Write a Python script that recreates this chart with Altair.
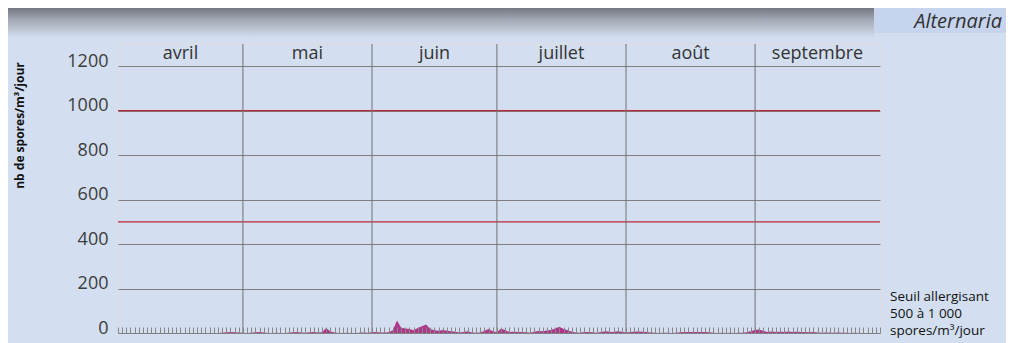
import altair as alt
import pandas as pd

# ---- data ----
mois = ["avril", "mai", "juin", "juillet", "août", "septembre"]
jours_par_mois = [30, 31, 30, 31, 31, 30]

avril = [0, 0, 0, 0, 0, 0, 0, 0, 0, 0, 0, 0, 0, 0, 0, 0, 0, 0, 0, 0, 0, 0, 0, 0, 0, 1, 3, 4, 3, 2]
mai = [1, 0, 1, 3, 4, 2, 0, 0, 1, 0, 0, 1, 3, 4, 2, 1, 3, 4, 2, 3, 22, 7, 2, 0, 0, 1, 0, 0, 1, 2, 1]
juin = [3, 4, 2, 2, 3, 12, 56, 24, 20, 18, 12, 22, 30, 38, 18, 12, 10, 14, 10, 8, 6, 2, 5, 8, 2, 1, 2, 10, 18, 8]
juillet = [3, 20, 12, 5, 6, 4, 5, 3, 1, 6, 9, 8, 11, 14, 20, 28, 18, 12, 6, 2, 1, 4, 5, 3, 1, 5, 8, 6, 4, 8, 6]
aout = [2, 4, 6, 7, 6, 5, 2, 1, 0, 1, 1, 0, 1, 3, 5, 4, 5, 4, 5, 4, 3, 1, 0, 1, 0, 1, 0, 1, 1, 3, 8]
septembre = [14, 16, 9, 5, 7, 5, 6, 4, 7, 5, 6, 5, 4, 3, 4, 2, 1, 2, 1, 1, 2, 1, 1, 0, 1, 0, 0, 0, 0, 0]

y_graduations = [0, 200, 400, 600, 800, 1000, 1200]
seuils = [500, 1000]
legende = ["Seuil allergisant", "500 à 1 000", "spores/m³/jour"]
titre = "Alternaria"
titre_axe = "nb de spores/m³/jour"

# ---- tables ----
valeurs = avril + mai + juin + juillet + aout + septembre
n_jours = len(valeurs)
df = pd.DataFrame({"jour": list(range(n_jours)), "spores": valeurs})

debuts = []
acc = 0
for n in jours_par_mois:
    debuts.append(acc)
    acc += n
fins = [d + n for d, n in zip(debuts, jours_par_mois)]
df_mois = pd.DataFrame({"mois": mois, "milieu": [(a + b) / 2 for a, b in zip(debuts, fins)]})
df_limites = pd.DataFrame({"jour": debuts[1:]})
df_seuils = pd.DataFrame({"seuil": seuils})
one = pd.DataFrame({"a": [0]})

BG = "#d3dff0"
FONT = "Open Sans"
xscale = alt.Scale(domain=[0, n_jours], nice=False, zero=False)
yscale = alt.Scale(domain=[0, 1300], nice=False)

area = alt.Chart(df).mark_area(color="#b0368b", interpolate="linear").encode(
    x=alt.X("jour:Q", scale=xscale,
            axis=alt.Axis(values=list(range(n_jours + 1)), labels=False, domain=False, grid=False,
                          ticks=True, tickSize=6, offset=-6, tickColor="#868686", tickWidth=1,
                          title=None, zindex=1)),
    y=alt.Y("spores:Q", scale=yscale,
            axis=alt.Axis(values=y_graduations, format="d", grid=True, gridColor="#808080",
                          gridWidth=1, ticks=False, domain=False, labelPadding=10,
                          labelFontSize=18, labelColor="#3c3c3c", labelBaseline="alphabetic",
                          labelFont=FONT,
                          title=titre_axe, titleX=-99, titleY=81, titleAngle=270,
                          titleAlign="center", titleBaseline="middle", titleFontSize=12,
                          titleFontWeight="bold", titleColor="#111111", titleFont=FONT)),
)

rouges = alt.Chart(df_seuils).mark_rule(color="#b8283a", strokeWidth=1.3).encode(
    y=alt.Y("seuil:Q", scale=yscale, axis=None)
)

limites = alt.Chart(df_limites).mark_rule(color="#707070", strokeWidth=1).encode(
    x=alt.X("jour:Q", scale=xscale, axis=None)
)

labels_mois = alt.Chart(df_mois).mark_text(
    fontSize=18, color="#333333", baseline="alphabetic", align="center", font=FONT
).encode(
    x=alt.X("milieu:Q", scale=xscale, axis=None),
    y=alt.value(15),
    text="mois:N",
)

gradient = alt.LinearGradient(
    gradient="linear",
    stops=[alt.GradientStop(offset=0, color="#74787f"),
           alt.GradientStop(offset=0.4, color="#a3a9b6"),
           alt.GradientStop(offset=1, color=BG)],
    x1=0, x2=0, y1=0, y2=1,
)
bande = alt.Chart(one).mark_rect(fill=gradient).encode(
    x=alt.value(-110), x2=alt.value(756), y=alt.value(-36), y2=alt.value(-6)
)
boite = alt.Chart(one).mark_rect(fill="#c6d4ee").encode(
    x=alt.value(756), x2=alt.value(890), y=alt.value(-36), y2=alt.value(-11)
)
txt_titre = alt.Chart(one).mark_text(
    text=titre, fontSize=20, fontStyle="italic", color="#333333", align="right",
    baseline="alphabetic", font=FONT
).encode(x=alt.value(884), y=alt.value(-16))

txt_legende = alt.Chart(one).mark_text(
    text=legende, fontSize=13.5, color="#111111", align="left", baseline="alphabetic",
    lineHeight=17, font=FONT
).encode(x=alt.value(772), y=alt.value(257))

chart = alt.layer(bande, boite, txt_titre, area, rouges, limites, labels_mois, txt_legende).resolve_axis(
    x="independent", y="independent"
).properties(
    width=762, height=289,
    autosize=alt.AutoSizeParams(type="none"),
    padding={"left": 110, "top": 36, "right": 126, "bottom": 10},
    background=BG,
).configure_view(stroke=None).configure(font=FONT)

chart.save("out.html", embed_options={"renderer": "svg", "actions": False})
